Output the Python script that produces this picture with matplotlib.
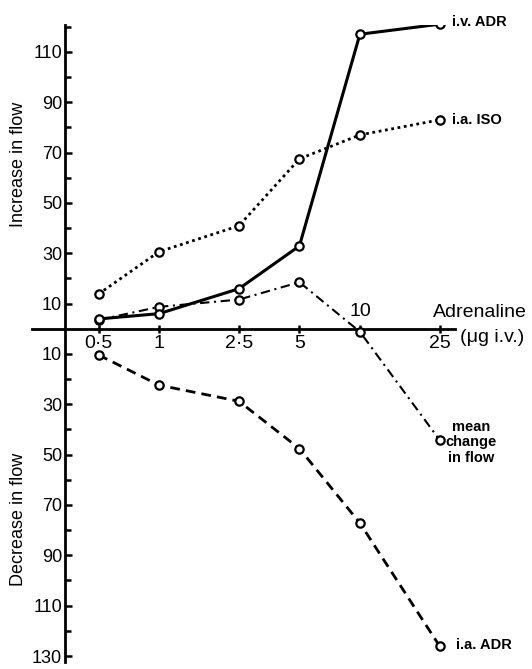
import matplotlib.pyplot as plt
from matplotlib.ticker import FixedLocator, FuncFormatter

plt.rcParams['font.family'] = ['Liberation Sans', 'DejaVu Sans']

# dose of adrenaline (ug i.v.)
doses = [0.5, 1, 2.5, 5, 10, 25]
dose_labels = ['0·5', '1', '2·5', '5', '10', '25']

# change in flow at each dose
iv_adr = [3.9, 6.0, 15.9, 32.9, 117, 121]
ia_iso = [13.8, 30.6, 40.9, 67.5, 77, 83]
mean_change = [3.5, 8.7, 11.6, 18.5, -1.2, -44.3]
ia_adr = [-10.4, -22.4, -28.8, -47.6, -77.2, -126.2]

fig = plt.figure(figsize=(5.32, 6.69), dpi=100)
ax = fig.add_axes([0.060, 0.010, 0.795, 0.952])

ax.set_xscale('log')
ax.set_xlim(0.233, 29.7)
ax.set_ylim(-132.5, 120.5)

mk = dict(marker='o', markersize=6, markerfacecolor='white',
          markeredgecolor='black', markeredgewidth=1.6, color='black')

ax.plot(doses, iv_adr, linestyle='-', lw=2.2, zorder=4, **mk)
ax.plot(doses, ia_iso, linestyle=(0, (1, 1.3)), lw=2.0, zorder=3, **mk)
ax.plot(doses, mean_change, linestyle=(0, (4.5, 2.2, 1, 2.2)), lw=1.5, zorder=3, **mk)
ax.plot(doses, ia_adr, linestyle=(0, (3.5, 2.2)), lw=2.0, zorder=3, **mk)

# axes drawn through the origin
for s in ['top', 'right']:
    ax.spines[s].set_visible(False)
ax.spines['left'].set_position(('data', 0.34))
ax.spines['bottom'].set_position(('data', 0))
ax.spines['left'].set_linewidth(2.0)
ax.spines['bottom'].set_linewidth(2.0)

major = [110, 90, 70, 50, 30, 10, -10, -30, -50, -70, -90, -110, -130]
minor = [120, 100, 80, 60, 40, 20, -20, -40, -60, -80, -100, -120]
ax.yaxis.set_major_locator(FixedLocator(major))
ax.yaxis.set_minor_locator(FixedLocator(minor))
ax.yaxis.set_major_formatter(FuncFormatter(lambda v, p: '%d' % abs(v)))
ax.tick_params(axis='y', which='both', direction='in', width=1.8, labelsize=13, pad=2)
ax.tick_params(axis='y', which='major', length=5)
ax.tick_params(axis='y', which='minor', length=4)

ax.set_xticks(doses)
ax.set_xticklabels([])
ax.xaxis.set_minor_locator(FixedLocator([]))
ax.tick_params(axis='x', which='major', direction='inout', length=6, width=1.8)

for d, lab in zip(doses, dose_labels):
    dy = 17 if lab == '10' else -15
    ax.annotate(lab, (d, 0), xytext=(0, dy), textcoords='offset pixels',
                ha='center', va='center', fontsize=14)

ax.annotate('Adrenaline', (29.7, 0), xytext=(72, 16), textcoords='offset pixels',
            ha='right', va='center', fontsize=14, annotation_clip=False)
ax.annotate('(μg i.v.)', (29.7, 0), xytext=(5, -9), textcoords='offset pixels',
            ha='left', va='center', fontsize=14, annotation_clip=False)

bold = dict(textcoords='offset pixels', fontsize=10.5, fontweight='bold',
            va='center', annotation_clip=False)
ax.annotate('i.v. ADR', (doses[-1], iv_adr[-1]), xytext=(12, 2), ha='left', **bold)
ax.annotate('i.a. ISO', (doses[-1], ia_iso[-1]), xytext=(12, 0), ha='left', **bold)
ax.annotate('i.a. ADR', (doses[-1], ia_adr[-1]), xytext=(16, 1), ha='left', **bold)
ax.annotate('mean\nchange\nin flow', (doses[-1], mean_change[-1]), xytext=(31, -2),
            ha='center', linespacing=1.15, **bold)

fig.text(0.034, 0.755, 'Increase in flow', rotation=90, ha='center', va='center', fontsize=13)
fig.text(0.034, 0.223, 'Decrease in flow', rotation=90, ha='center', va='center', fontsize=13)

plt.savefig('out.png', dpi=100)
